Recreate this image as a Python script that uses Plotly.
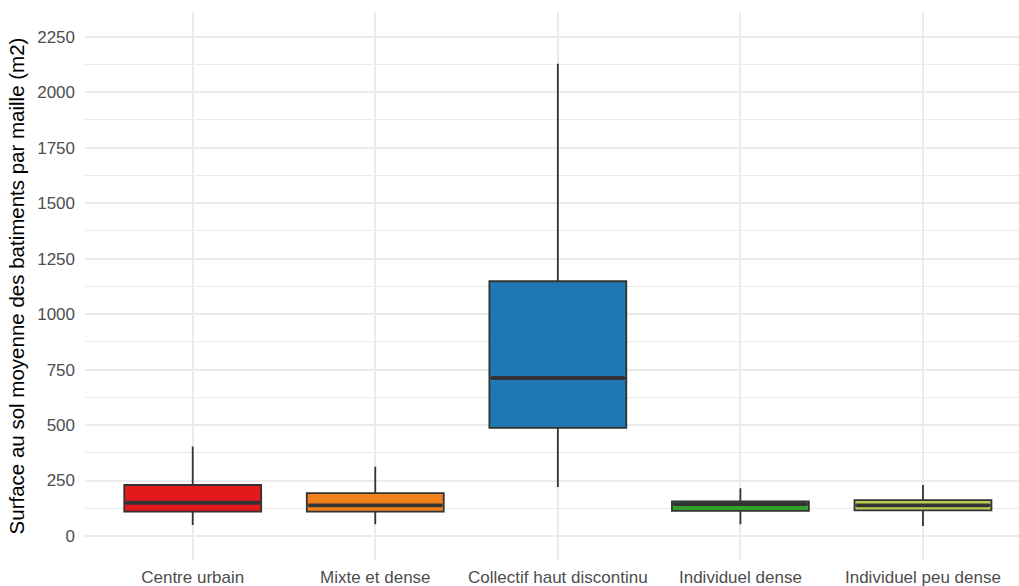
import plotly.graph_objects as go

categories = ["Centre urbain", "Mixte et dense", "Collectif haut discontinu",
              "Individuel dense", "Individuel peu dense"]
lower = [50, 53, 221, 53, 45]
q1 = [110, 110, 487, 113, 116]
median = [150, 138, 712, 144, 138]
q3 = [230, 193, 1148, 156, 162]
upper = [403, 312, 2128, 215, 230]
colors = ["#E31A1C", "#F0801C", "#1F78B4", "#33A02C", "#B5CF55"]
y_ticks = [0, 250, 500, 750, 1000, 1250, 1500, 1750, 2000, 2250]

BOX_W = 0.75
fig = go.Figure()
for i, cat in enumerate(categories):
    fig.add_trace(go.Box(
        x=[i], q1=[q1[i]], median=[median[i]], q3=[q3[i]],
        lowerfence=[lower[i]], upperfence=[upper[i]],
        width=BOX_W, whiskerwidth=0, fillcolor=colors[i],
        line=dict(color="#333333", width=1.8),
        boxpoints=False, showlegend=False, hoverinfo="skip", name=cat,
    ))
    fig.add_trace(go.Scatter(
        x=[i - BOX_W / 2 + 0.01, i + BOX_W / 2 - 0.01], y=[median[i], median[i]],
        mode="lines", line=dict(color="#333333", width=3.8),
        showlegend=False, hoverinfo="skip",
    ))

minor_vals = [v + 125 for v in y_ticks]
fig.update_layout(
    width=1019, height=586,
    margin=dict(l=85, r=0, t=12, b=26),
    plot_bgcolor="white", paper_bgcolor="white",
    font=dict(family="Liberation Sans, Arial, sans-serif", size=17, color="#4D4D4D"),
    xaxis=dict(
        range=[-0.59, 4.526], tickmode="array",
        tickvals=list(range(len(categories))), ticktext=categories,
        showgrid=True, gridcolor="#EBEBEB", gridwidth=1.6,
        zeroline=False, showline=False, ticks="", ticklabelstandoff=5,
        tickfont=dict(size=17, color="#4D4D4D"), automargin=False,
    ),
    yaxis=dict(
        range=[-108, 2361], tickmode="array", tickvals=y_ticks,
        showgrid=True, gridcolor="#EBEBEB", gridwidth=1.6,
        zeroline=False, showline=False, ticks="", ticklabelstandoff=9,
        tickfont=dict(size=17, color="#4D4D4D"), automargin=False,
        minor=dict(tickmode="array", tickvals=minor_vals, showgrid=True,
                   gridcolor="#EBEBEB", gridwidth=0.8),
        title=dict(text="Surface au sol moyenne des batiments par maille (m2)",
                   font=dict(size=20.5, color="black"), standoff=6),
    ),
)

fig.write_html("out.html", config={"displayModeBar": False},
               post_script="document.body.style.margin='0';document.body.style.padding='0';")
